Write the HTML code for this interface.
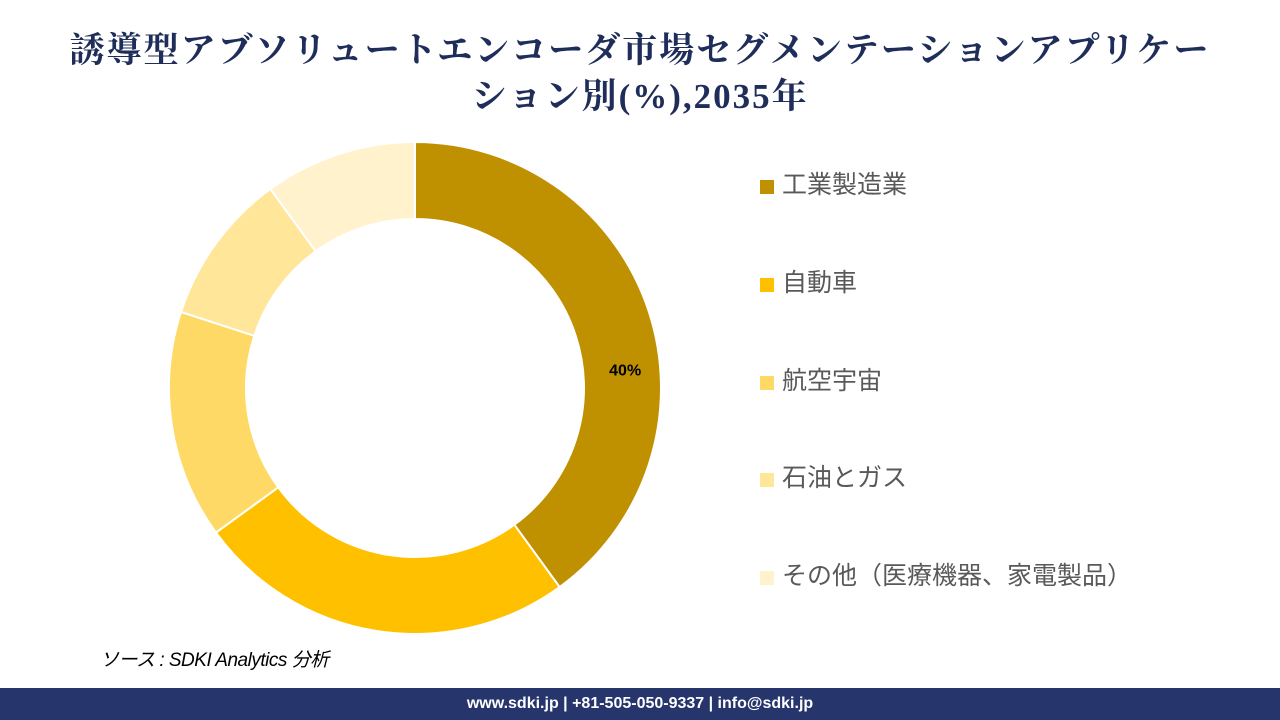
<!DOCTYPE html>
<html><head><meta charset="utf-8">
<style>
body{margin:0;width:1280px;height:720px;background:#fff;position:relative;overflow:hidden;font-family:"Liberation Sans","Noto Sans CJK JP",sans-serif}
#title{position:absolute;left:20px;top:28px;width:1240px;text-align:center;font-family:"Liberation Serif","Noto Serif CJK SC",serif;font-size:35px;line-height:46px;color:#1F2D5A;font-weight:bold;letter-spacing:2px}
.leg{position:absolute;left:760px;font-size:25px;color:#595959;height:30px;line-height:30px}
.leg span{display:inline-block;width:14px;height:14px;margin-right:8px;vertical-align:-1px}
#src{position:absolute;left:100px;top:645px;font-size:19px;font-style:italic;color:#000;letter-spacing:-0.5px}
#foot{position:absolute;left:0;top:688px;width:1280px;height:32px;background:#26356B;color:#fff;font-weight:bold;font-size:16px;text-align:center;line-height:32px}
</style></head><body>
<div id="title">誘導型アブソリュートエンコーダ市場セグメンテーションアプリケー<br>ション別(%),2035年</div>
<svg id="chart" width="1280" height="720" style="position:absolute;left:0;top:0"></svg>
<div id="legend"></div>
<div id="src">ソース : SDKI Analytics 分析</div>
<div id="foot">www.sdki.jp | +81-505-050-9337 | info@sdki.jp</div>
<script>
const categories=["工業製造業","自動車","航空宇宙","石油とガス","その他（医療機器、家電製品）"];
const values=[40,25,15,10,10];
const labels=["40%","","","",""];
const colors=["#BF9000","#FFC000","#FFD966","#FFE699","#FFF2CC"];
const cx=415,cy=388,R=246,r=169;
const svg=document.getElementById('chart');
const ns="http://www.w3.org/2000/svg";
const total=values.reduce((a,b)=>a+b,0);
function pt(a,rad){return [cx+rad*Math.sin(a),cy-rad*Math.cos(a)];}
let acc=0;
values.forEach((v,i)=>{
  const a0=acc/total*2*Math.PI;acc+=v;const a1=acc/total*2*Math.PI;
  const large=(a1-a0)>Math.PI?1:0;
  const [x0,y0]=pt(a0,R),[x1,y1]=pt(a1,R),[x2,y2]=pt(a1,r),[x3,y3]=pt(a0,r);
  const p=document.createElementNS(ns,'path');
  p.setAttribute('d',`M${x0},${y0}A${R},${R} 0 ${large} 1 ${x1},${y1}L${x2},${y2}A${r},${r} 0 ${large} 0 ${x3},${y3}Z`);
  p.setAttribute('fill',colors[i]);p.setAttribute('stroke','#fff');p.setAttribute('stroke-width','2');
  
  
  svg.appendChild(p);
  if(labels[i]){
    const [lx,ly]=pt(a0+(a1-a0)*0.59,211);
    const t=document.createElementNS(ns,'text');
    t.setAttribute('x',lx);t.setAttribute('y',ly+6);t.setAttribute('text-anchor','middle');
    t.setAttribute('font-size','16');t.setAttribute('font-weight','bold');t.setAttribute('font-family','Liberation Sans,sans-serif');
    t.textContent=labels[i];
    
    
    svg.appendChild(t);
  }
});
const lg=document.getElementById('legend');
categories.forEach((c,i)=>{
  const d=document.createElement('div');d.className='leg';d.style.top=(170+i*97.8)+'px';
  d.innerHTML='<span style="background:'+colors[i]+'"></span>'+c;
  
  
  lg.appendChild(d);
});
</script>
</body></html>
